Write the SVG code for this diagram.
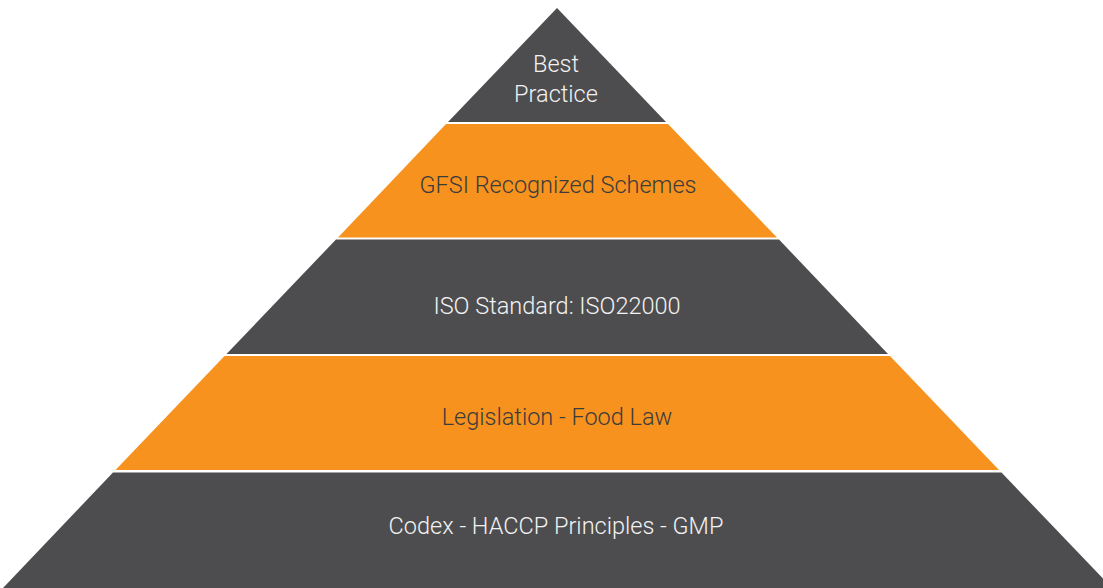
<svg xmlns="http://www.w3.org/2000/svg" width="1103" height="588" viewBox="0 0 1103 588">
<style>
.dark{fill:#4d4d4f}
.orange{fill:#f7921e}
.lbl{fill:#f2f2f2;font-family:Roboto,"Liberation Sans",sans-serif;font-weight:300;font-size:23.5px;text-anchor:middle}
.lbl.on-orange{fill:#3c3c3c}
</style>
<rect width="1103" height="588" fill="#ffffff"/>
<g id="layer-best-practice">
<polygon class="dark" points="557,8 666,122 448,122"/>
<text class="lbl" x="556" y="71.5">Best</text>
<text class="lbl" x="556" y="102">Practice</text>
</g>
<g id="layer-gfsi">
<polygon class="orange" points="446,124 668,124 777,237.5 338,237.5"/>
<text class="lbl on-orange" x="558" y="192.5">GFSI Recognized Schemes</text>
</g>
<g id="layer-iso">
<polygon class="dark" points="336,239.5 779,239.5 888,354 226.5,354"/>
<text class="lbl" x="557" y="313.5">ISO Standard: ISO22000</text>
</g>
<g id="layer-legislation">
<polygon class="orange" points="224.5,356 890,356 999,470 115.5,470"/>
<text class="lbl on-orange" x="557" y="424.5">Legislation - Food Law</text>
</g>
<g id="layer-codex">
<polygon class="dark" points="113,472.5 1001.5,472.5 1112,588 3,588"/>
<text class="lbl" x="556" y="534.3">Codex - HACCP Principles - GMP</text>
</g>
</svg>
